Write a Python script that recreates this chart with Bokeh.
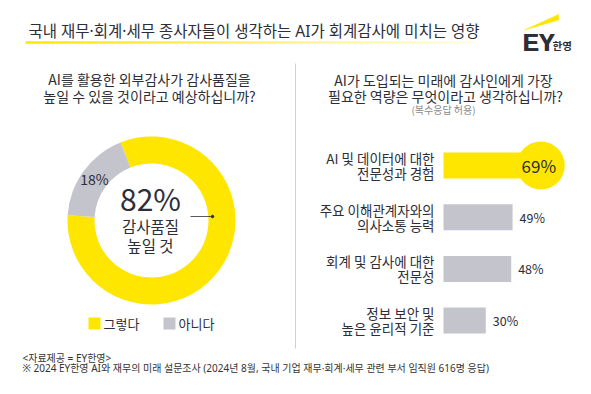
from bokeh.plotting import figure
from bokeh.models import Range1d
from bokeh.embed import file_html
from bokeh.resources import INLINE
from bokeh.core.properties import value
import numpy as np

# ---- data ----
title_text = "국내 재무·회계·세무 종사자들이 생각하는 AI가 회계감사에 미치는 영향"

donut_question = ["AI를 활용한 외부감사가 감사품질을", "높일 수 있을 것이라고 예상하십니까?"]
donut_labels = ["그렇다", "아니다"]
donut_values = [82, 18]
donut_center_caption = ["감사품질", "높일 것"]

bar_question = ["AI가 도입되는 미래에 감사인에게 가장", "필요한 역량은 무엇이라고 생각하십니까?"]
bar_note = "(복수응답 허용)"
skill_line1 = ["AI 및 데이터에 대한", "주요 이해관계자와의", "회계 및 감사에 대한", "정보 보안 및"]
skill_line2 = ["전문성과 경험", "의사소통 능력", "전문성", "높은 윤리적 기준"]
skill_values = [69, 49, 48, 30]

source_note = "<자료제공 = EY한영>"
survey_note = "※ 2024 EY한영 AI와 재무의 미래 설문조사 (2024년 8월, 국내 기업 재무·회계·세무 관련 부서 임직원 616명 응답)"

# ---- style ----
W, H = 591, 394
YELLOW = "#FFE600"
GREY = "#C4C4CD"
DARK = "#2E2E38"
KR = value("Noto Sans CJK KR")
MIXED = value("Noto Sans, Noto Sans CJK KR")  # narrow Latin punctuation, Korean fallback

p = figure(width=W, height=H, x_range=Range1d(0, W), y_range=Range1d(H, 0),
           output_backend="svg", toolbar_location=None,
           x_axis_location=None, y_axis_location=None, min_border=0)
p.outline_line_color = None
p.grid.visible = False
p.background_fill_color = "white"
p.border_fill_color = "white"

# bar chart scales: percent along x, rank along y
PX_PER_PCT = 1.41
BAR_X0 = 443
ROW0, ROW_STEP = 165, 51.7
p.extra_x_ranges = {"pct": Range1d(-BAR_X0 / PX_PER_PCT, (W - BAR_X0) / PX_PER_PCT)}
p.extra_y_ranges = {"rank": Range1d((H - ROW0) / ROW_STEP, -ROW0 / ROW_STEP)}


def txt(x, y, s, size, color=DARK, align="center", baseline="middle", style="normal", font=KR, **kw):
    p.text(x=[x], y=[y], text=[s], text_font=font, text_font_size=f"{size}px",
           text_color=color, text_align=align, text_baseline=baseline,
           text_font_style=style, **kw)


# ---- header ----
txt(28, 30, title_text, 15.5, align="left", font=MIXED)
n_seg = 60
xs = np.linspace(25, 475, n_seg + 1)
alphas = np.linspace(1.0, 0.1, n_seg)
p.segment(x0=xs[:-1], y0=[42] * n_seg, x1=xs[1:], y1=[42] * n_seg,
          line_color=YELLOW, line_width=2.5, line_alpha=alphas)

# logo
p.patch(x=[524, 558, 558], y=[29.5, 14, 19.5], fill_color=YELLOW, line_color=YELLOW, line_width=0.5)
for dx in (0, 0.7):
    p.text(x=[522 + dx], y=[42], text=["EY"], text_font=value("Liberation Sans"),
           text_font_size="24px", text_font_style="bold", text_color=DARK,
           text_baseline="middle")
txt(552, 45, "한영", 10.5, align="left", style="bold")

# divider
p.segment(x0=[295], y0=[63], x1=[295], y1=[348], line_color="#D0D0D0", line_width=1)

# ---- left panel: donut ----
txt(149, 78, donut_question[0], 14)
txt(149, 95, donut_question[1], 14)

cx, cy, r_in, r_out = 151, 220, 57, 84
start_deg = 176.4
fracs = np.array(donut_values) / sum(donut_values)
ends = np.radians(start_deg) + 2 * np.pi * np.cumsum(fracs)
starts = np.concatenate([[np.radians(start_deg)], ends[:-1]])
colors = [YELLOW, GREY]
p.annular_wedge(x=[cx] * 2, y=[cy] * 2, inner_radius=r_in, outer_radius=r_out,
                start_angle=list(starts), end_angle=list(ends), direction="anticlock",
                fill_color=colors, line_color=None)

# minority share label on its slice
mid = (starts[1] + ends[1]) / 2
rm = (r_in + r_out) / 2
txt(cx + rm * np.cos(mid), cy - rm * np.sin(mid), f"{donut_values[1]}%", 14)

# centre caption
txt(cx - 1, 197, f"{donut_values[0]}%", 30)
txt(cx - 1, 225, donut_center_caption[0], 15.5)
txt(cx - 1, 244, donut_center_caption[1], 15.5)
p.segment(x0=[190], y0=[216], x1=[212], y1=[216], line_color=DARK, line_width=0.8)
p.scatter(x=[212], y=[216], marker="circle", size=2.5, color=DARK)

# legend
for i, (lab, col) in enumerate(zip(donut_labels, colors)):
    lx = 94 + i * 75
    p.scatter(x=[lx], y=[323], marker="square", size=12, fill_color=col, line_color=None)
    txt(lx + 9, 323, lab, 13, align="left")

# ---- right panel: bars ----
txt(443, 79, bar_question[0], 14)
txt(445, 95, bar_question[1], 14)
txt(443, 109, bar_note, 10, color="#8A8A8A")

ranks = list(range(len(skill_values)))
bar_colors = [YELLOW] + [GREY] * (len(skill_values) - 1)
p.hbar(y=ranks, left=0, right=skill_values, height=26 / ROW_STEP, fill_color=bar_colors,
       line_color=None, x_range_name="pct", y_range_name="rank")

# highlight the leading answer with a disc at the end of its bar
p.scatter(x=[skill_values[0]], y=[0], marker="circle", size=48, fill_color=YELLOW,
          line_color=None, x_range_name="pct", y_range_name="rank")
p.text(x=[skill_values[0]], y=[0], text=[f"{skill_values[0]}%"], text_font=KR,
       text_font_size="17px", text_color=DARK, text_align="center", text_baseline="middle",
       x_offset=-2, x_range_name="pct", y_range_name="rank")
p.text(x=skill_values[1:], y=ranks[1:], text=[f"{v}%" for v in skill_values[1:]], text_font=KR,
       text_font_size="12.5px", text_color=DARK, text_align="left", text_baseline="middle",
       x_offset=7, x_range_name="pct", y_range_name="rank")

# category labels (two lines each)
p.text(x=[434] * 4, y=ranks, text=skill_line1, text_font=KR, text_font_size="13.5px",
       text_color=DARK, text_align="right", text_baseline="middle", y_offset=-7.5,
       y_range_name="rank")
p.text(x=[434] * 4, y=ranks, text=skill_line2, text_font=KR, text_font_size="13.5px",
       text_color=DARK, text_align="right", text_baseline="middle", y_offset=7.5,
       y_range_name="rank")

# ---- footer ----
txt(22, 357, source_note, 10, color="#333333", align="left", font=MIXED)
txt(22, 367, survey_note, 10, color="#333333", align="left", font=MIXED)

open("out.html", "w").write(file_html(p, INLINE))
